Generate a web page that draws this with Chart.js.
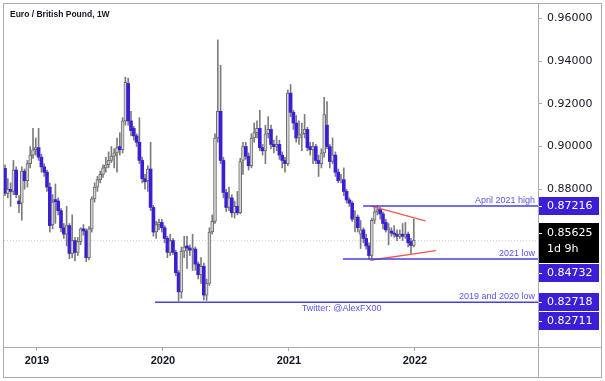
<!DOCTYPE html>
<html>
<head>
<meta charset="utf-8">
<script src="https://cdn.jsdelivr.net/npm/chart.js@4.4.1/dist/chart.umd.min.js"></script>
<style>
  html, body { margin: 0; padding: 0; background: #fff; }
  canvas { display: block; }
</style>
</head>
<body>
<canvas id="eurgbp-chart" width="605" height="381"></canvas>
<script>
// weekly candles, index 0 = first visible week
const opens = [
  0.8898, 0.8781, 0.8800, 0.8790, 0.8890, 0.8745, 0.8735, 0.8885, 0.8840, 0.8920,
  0.8960, 0.8985, 0.8995, 0.8950, 0.8905, 0.8880, 0.8810, 0.8635, 0.8752, 0.8745,
  0.8700, 0.8620, 0.8590, 0.8630, 0.8500, 0.8560, 0.8505, 0.8555, 0.8615, 0.8605,
  0.8480, 0.8615, 0.8755, 0.8810, 0.8845, 0.8870, 0.8900, 0.8915, 0.8935, 0.8955,
  0.8970, 0.9000, 0.8985, 0.9120, 0.9295, 0.9120, 0.9085, 0.9050, 0.9020, 0.8935,
  0.8850, 0.8840, 0.8895, 0.8715, 0.8600, 0.8635, 0.8645, 0.8620, 0.8570, 0.8505,
  0.8560, 0.8505, 0.8410, 0.8320, 0.8510, 0.8535, 0.8525, 0.8515, 0.8520, 0.8450,
  0.8400, 0.8440, 0.8305, 0.8360, 0.8600, 0.8650, 0.9040, 0.9165, 0.8935, 0.8785,
  0.8715, 0.8760, 0.8690, 0.8720, 0.8690, 0.8935, 0.9000, 0.8955, 0.8910, 0.9040,
  0.9065, 0.9085, 0.8995, 0.8980, 0.9060, 0.9080, 0.9010, 0.9000, 0.9010, 0.8960,
  0.8935, 0.8920, 0.9250, 0.9160, 0.9110, 0.9040, 0.9055, 0.9060, 0.9080, 0.9000,
  0.8985, 0.9000, 0.8935, 0.8920, 0.8970, 0.9100, 0.9000, 0.8930, 0.8960, 0.8880,
  0.8840, 0.8845, 0.8790, 0.8750, 0.8735, 0.8660, 0.8670, 0.8590, 0.8610, 0.8570,
  0.8535, 0.8490, 0.8655, 0.8695, 0.8705, 0.8685, 0.8645, 0.8610, 0.8605, 0.8595,
  0.8590, 0.8580, 0.8590, 0.8580, 0.8590, 0.8555, 0.8537
];
const highs = [
  0.8915, 0.8850, 0.8830, 0.8935, 0.8905, 0.8770, 0.8905, 0.8895, 0.8935, 0.9000,
  0.9085, 0.9040, 0.9085, 0.8965, 0.8920, 0.8890, 0.8830, 0.8775, 0.8825, 0.8760,
  0.8710, 0.8640, 0.8720, 0.8640, 0.8680, 0.8575, 0.8575, 0.8620, 0.8635, 0.8615,
  0.8625, 0.8765, 0.8830, 0.8860, 0.8885, 0.8915, 0.8950, 0.8975, 0.9000, 0.8990,
  0.9040, 0.9065, 0.9135, 0.9325, 0.9320, 0.9165, 0.9095, 0.9060, 0.9135, 0.8950,
  0.8870, 0.8910, 0.9020, 0.8725, 0.8650, 0.8660, 0.8660, 0.8630, 0.8580, 0.8590,
  0.8570, 0.8515, 0.8420, 0.8530, 0.8580, 0.8580, 0.8540, 0.8590, 0.8530, 0.8460,
  0.8480, 0.8455, 0.8380, 0.8620, 0.8680, 0.9060, 0.9499, 0.9380, 0.8950, 0.8800,
  0.8810, 0.8775, 0.8745, 0.8790, 0.8945, 0.9020, 0.9020, 0.8970, 0.9060, 0.9110,
  0.9120, 0.9170, 0.9010, 0.9100, 0.9140, 0.9100, 0.9030, 0.9050, 0.9030, 0.8975,
  0.8950, 0.9265, 0.9290, 0.9170, 0.9145, 0.9120, 0.9110, 0.9150, 0.9090, 0.9020,
  0.9020, 0.9010, 0.8960, 0.8990, 0.9230, 0.9210, 0.9010, 0.9040, 0.8975, 0.8895,
  0.8870, 0.8900, 0.8800, 0.8760, 0.8745, 0.8700, 0.8680, 0.8654, 0.8620, 0.8590,
  0.8550, 0.8665, 0.8721, 0.8722, 0.8715, 0.8695, 0.8660, 0.8640, 0.8620, 0.8630,
  0.8610, 0.8610, 0.8640, 0.8645, 0.8600, 0.8570, 0.8660
];
const lows = [
  0.8770, 0.8760, 0.8720, 0.8775, 0.8760, 0.8690, 0.8655, 0.8800, 0.8810, 0.8900,
  0.8945, 0.8960, 0.8935, 0.8880, 0.8860, 0.8790, 0.8600, 0.8615, 0.8640, 0.8680,
  0.8600, 0.8570, 0.8535, 0.8475, 0.8480, 0.8465, 0.8490, 0.8540, 0.8585, 0.8462,
  0.8470, 0.8600, 0.8740, 0.8790, 0.8830, 0.8855, 0.8880, 0.8900, 0.8925, 0.8900,
  0.8880, 0.8960, 0.8970, 0.9100, 0.9100, 0.9050, 0.9030, 0.9000, 0.8920, 0.8830,
  0.8800, 0.8790, 0.8700, 0.8580, 0.8570, 0.8610, 0.8600, 0.8550, 0.8480, 0.8490,
  0.8495, 0.8395, 0.8277, 0.8290, 0.8480, 0.8430, 0.8490, 0.8420, 0.8420, 0.8380,
  0.8360, 0.8282, 0.8280, 0.8350, 0.8590, 0.8640, 0.9020, 0.8920, 0.8760, 0.8695,
  0.8700, 0.8670, 0.8665, 0.8680, 0.8685, 0.8870, 0.8940, 0.8890, 0.8900, 0.9020,
  0.9040, 0.8980, 0.8960, 0.8920, 0.9040, 0.8990, 0.8970, 0.8980, 0.8940, 0.8900,
  0.8880, 0.8910, 0.9140, 0.9080, 0.9020, 0.9010, 0.8980, 0.9040, 0.8980, 0.8960,
  0.8920, 0.8920, 0.8860, 0.8900, 0.8950, 0.8990, 0.8900, 0.8920, 0.8860, 0.8830,
  0.8830, 0.8770, 0.8735, 0.8720, 0.8650, 0.8600, 0.8600, 0.8523, 0.8550, 0.8520,
  0.8473, 0.8475, 0.8640, 0.8680, 0.8660, 0.8615, 0.8600, 0.8540, 0.8580, 0.8575,
  0.8560, 0.8570, 0.8560, 0.8570, 0.8530, 0.8500, 0.8530
];
const closes = [
  0.8781, 0.8800, 0.8790, 0.8890, 0.8775, 0.8732, 0.8885, 0.8840, 0.8920, 0.8960,
  0.8985, 0.8995, 0.8950, 0.8905, 0.8880, 0.8810, 0.8630, 0.8740, 0.8742, 0.8700,
  0.8620, 0.8590, 0.8630, 0.8500, 0.8560, 0.8505, 0.8555, 0.8615, 0.8605, 0.8480,
  0.8615, 0.8755, 0.8810, 0.8845, 0.8870, 0.8900, 0.8915, 0.8935, 0.8955, 0.8970,
  0.8995, 0.8985, 0.9120, 0.9300, 0.9120, 0.9075, 0.9050, 0.9020, 0.8935, 0.8850,
  0.8835, 0.8895, 0.8715, 0.8600, 0.8635, 0.8645, 0.8620, 0.8570, 0.8505, 0.8560,
  0.8505, 0.8410, 0.8320, 0.8510, 0.8530, 0.8525, 0.8515, 0.8525, 0.8450, 0.8400,
  0.8440, 0.8305, 0.8360, 0.8600, 0.8650, 0.9040, 0.9165, 0.8935, 0.8785, 0.8715,
  0.8760, 0.8690, 0.8720, 0.8690, 0.8930, 0.9000, 0.8955, 0.8910, 0.9040, 0.9065,
  0.9085, 0.8995, 0.8980, 0.9060, 0.9080, 0.9010, 0.9000, 0.9010, 0.8960, 0.8935,
  0.8920, 0.9250, 0.9160, 0.9110, 0.9040, 0.9055, 0.9060, 0.9080, 0.8995, 0.8985,
  0.9000, 0.8935, 0.8920, 0.8970, 0.9150, 0.9000, 0.8930, 0.8960, 0.8880, 0.8840,
  0.8845, 0.8790, 0.8750, 0.8735, 0.8660, 0.8670, 0.8620, 0.8610, 0.8570, 0.8535,
  0.8490, 0.8655, 0.8695, 0.8705, 0.8685, 0.8640, 0.8610, 0.8620, 0.8595, 0.8590,
  0.8580, 0.8590, 0.8580, 0.8590, 0.8550, 0.8537, 0.85625
];

// time axis labels (placed by bar index)
const yearLabels = ['2019', '2020', '2021', '2022'];
const yearTickPos = [11.4, 56.4, 101.4, 146.4];

// price axis
const priceTicks = [0.82, 0.84, 0.86, 0.88, 0.90, 0.92, 0.94, 0.96];

// horizontal levels drawn on the chart
const levelValues = [0.87216, 0.84732, 0.82711];
const levelStart = [127.9, 120.7, 53.6];
const levelNames = ['April 2021 high', '2021 low', '2019 and 2020 low'];

// triangle trendlines [index, price]
const upperTrend = [[130.9, 0.8721], [150.1, 0.8652]];
const lowerTrend = [[130.4, 0.8468], [153.9, 0.8513]];

// price labels on the right axis
const axisBoxes = [0.87216, 0.84732, 0.82718, 0.82711];
const lastPrice = 0.85625;
const countdown = '1d 9h';

const titleText = 'Euro / British Pound, 1W';
const creditText = 'Twitter: @AlexFX00';

const upColor = '#d4d4d4';
const upBorder = '#6e6e6e';
const downColor = '#3b1fd6';
const wickColor = '#7c7c7c';
const levelColor = '#4a3fe0';
const textBlue = '#5b52e6';
const trendColor = '#f2584b';
const frameColor = '#a9abb3';
const axisText = '#131722';

const bodyData = closes.map((c, i) => ({ x: i, y: [opens[i], c] }));
const wickData = highs.map((h, i) => ({ x: i, y: [lows[i], h] }));
const isUp = closes.map((c, i) => c >= opens[i]);

const XMAX = 190.36;
const levelSets = levelValues.map((v, k) => ({
    type: 'line',
    data: [{ x: levelStart[k], y: v }, { x: XMAX, y: v }],
    borderColor: levelColor,
    borderWidth: 1.5,
    pointRadius: 0,
    order: 0
}));
const trendSets = [upperTrend, lowerTrend].map(t => ({
    type: 'line',
    data: t.map(p => ({ x: p[0], y: p[1] })),
    borderColor: trendColor,
    borderWidth: 1.3,
    pointRadius: 0,
    order: 0
}));

const overlay = {
    id: 'overlay',
    beforeDatasetsDraw(chart) {
        const { ctx, chartArea, scales } = chart;
        const y = Math.round(scales.y.getPixelForValue(lastPrice)) + 0.5;
        ctx.save();
        ctx.strokeStyle = '#d6d6d6';
        ctx.setLineDash([1, 2]);
        ctx.lineWidth = 1;
        ctx.beginPath();
        ctx.moveTo(chartArea.left, y);
        ctx.lineTo(chartArea.right, y);
        ctx.stroke();
        ctx.restore();
    },
    afterDraw(chart) {
        const { ctx, chartArea, scales } = chart;
        const W = chart.width, H = chart.height;
        ctx.save();

        // frame
        ctx.strokeStyle = frameColor;
        ctx.lineWidth = 1;
        ctx.strokeRect(3.5, 3.5, W - 7, H - 7);
        ctx.beginPath();
        ctx.moveTo(chartArea.right + 0.5, 3.5);
        ctx.lineTo(chartArea.right + 0.5, H - 3.5);
        ctx.moveTo(3.5, chartArea.bottom + 0.5);
        ctx.lineTo(W - 3.5, chartArea.bottom + 0.5);
        ctx.stroke();

        // title
        ctx.fillStyle = axisText;
        ctx.font = 'bold 8.5px "Liberation Sans"';
        ctx.textAlign = 'left';
        ctx.textBaseline = 'middle';
        ctx.fillText(titleText, 10, 15);

        // level names
        ctx.font = '9px "Liberation Sans"';
        ctx.fillStyle = textBlue;
        ctx.textAlign = 'right';
        levelValues.forEach((v, k) => {
            const y = scales.y.getPixelForValue(v);
            ctx.fillText(levelNames[k], chartArea.right - 3, y - 6);
        });
        ctx.textAlign = 'left';
        const lowY = scales.y.getPixelForValue(levelValues[2]);
        ctx.fillText(creditText, scales.x.getPixelForValue(106), lowY + 6.5);

        // axis boxes, stacked like the platform does
        const items = axisBoxes.map(v => ({ v, h: 18, dark: false }));
        items.push({ v: lastPrice, h: 40, dark: true });
        items.forEach(it => {
            const y = scales.y.getPixelForValue(it.v);
            it.top = it.dark ? y - 17 : y - it.h / 2;
        });
        items.sort((a, b) => a.top - b.top);
        let prevBottom = -Infinity;
        items.forEach(it => {
            if (it.top < prevBottom + 1) it.top = prevBottom + 1;
            prevBottom = it.top + it.h;
        });
        const bx = chartArea.right + 1;
        const bw = 599 - bx;
        ctx.font = '11px "DejaVu Sans"';
        items.forEach(it => {
            ctx.fillStyle = it.dark ? '#000000' : downColor;
            ctx.fillRect(bx, Math.round(it.top), bw, it.h);
            ctx.fillStyle = '#ffffff';
            ctx.textAlign = 'left';
            const ty = Math.round(it.top) + (it.dark ? 10 : 9);
            ctx.fillRect(bx, Math.round(ty), 3, 1);
            ctx.fillText(it.v.toFixed(5), chartArea.right + 9, ty);
            if (it.dark) ctx.fillText(countdown, chartArea.right + 9, ty + 16);
        });
        ctx.restore();
    }
};

new Chart(document.getElementById('eurgbp-chart').getContext('2d'), {
    type: 'bar',
    data: {
        datasets: [
            {
                data: bodyData,
                backgroundColor: isUp.map(u => u ? upColor : downColor),
                borderColor: isUp.map(u => u ? upBorder : downColor),
                borderWidth: isUp.map(u => u ? 1 : 0),
                borderSkipped: false,
                barThickness: 3,
                minBarLength: 1,
                grouped: false,
                order: 1
            },
            {
                data: wickData,
                backgroundColor: wickColor,
                barThickness: 1,
                grouped: false,
                order: 2
            },
            ...levelSets,
            ...trendSets
        ]
    },
    options: {
        responsive: false,
        animation: false,
        devicePixelRatio: 1,
        layout: { padding: { left: 4, top: 4, right: 3, bottom: 3 } },
        plugins: { legend: { display: false }, tooltip: { enabled: false } },
        scales: {
            x: {
                type: 'linear',
                offset: false,
                min: -0.36,
                max: XMAX,
                grid: { offset: false, drawOnChartArea: false, tickLength: 4, color: frameColor },
                border: { display: false },
                afterBuildTicks: s => { s.ticks = yearTickPos.map(v => ({ value: v })); },
                afterFit: s => { s.height = 31; s.paddingLeft = 0; s.paddingRight = 0; },
                ticks: {
                    autoSkip: false,
                    maxRotation: 0,
                    padding: 3,
                    color: axisText,
                    font: { family: 'Liberation Sans', size: 11, weight: 'bold' },
                    callback: (v, i) => yearLabels[i]
                }
            },
            y: {
                type: 'linear',
                position: 'right',
                min: 0.8062,
                max: 0.9667,
                grid: { drawOnChartArea: false, tickLength: 4, color: frameColor },
                border: { display: false },
                afterBuildTicks: s => { s.ticks = priceTicks.map(v => ({ value: v })); },
                afterFit: s => { s.width = 64; s.paddingTop = 0; s.paddingBottom = 0; },
                ticks: {
                    padding: 5,
                    color: axisText,
                    font: { family: 'DejaVu Sans', size: 11 },
                    callback: v => Number(v).toFixed(5)
                }
            }
        }
    },
    plugins: [overlay]
});
</script>
</body>
</html>
